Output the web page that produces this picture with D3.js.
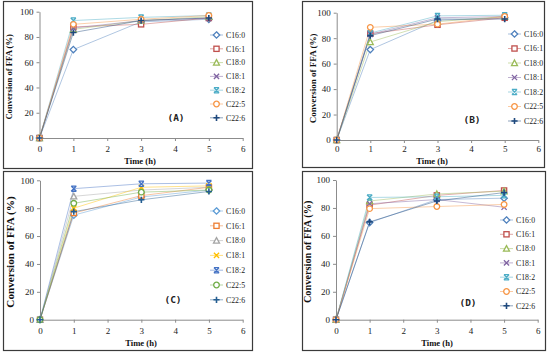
<!DOCTYPE html>
<html><head><meta charset="utf-8">
<script src="https://cdn.jsdelivr.net/npm/d3@7"></script>
<style>body{margin:0;background:#fff}svg{display:block}</style>
</head><body>
<svg id="c" width="550" height="354"></svg>
<script>
const times = [0, 1, 3, 5];
const seriesNames = ["C16:0", "C16:1", "C18:0", "C18:1", "C18:2", "C22:5", "C22:6"];
const xTicks = [0, 1, 2, 3, 4, 5, 6];
const yTicks = [0, 20, 40, 60, 80, 100];
const panelLabels = ["(A)", "(B)", "(C)", "(D)"];

const valuesA = [
  [0, 70, 92, 94],
  [0, 88, 90, 95],
  [0, 86, 93, 96],
  [0, 87, 93, 95],
  [0, 93, 95.5, 97],
  [0, 90, 94, 97],
  [0, 83.5, 93, 95]
];
const valuesB = [
  [0, 71, 94, 96],
  [0, 83.5, 90.5, 96],
  [0, 77, 93, 97],
  [0, 83, 96, 97],
  [0, 84, 97.5, 98],
  [0, 88.5, 91, 97],
  [0, 82, 95, 95]
];
const valuesC = [
  [0, 75, 88, 93],
  [0, 76.5, 89, 95],
  [0, 88.5, 93, 95],
  [0, 80, 95, 96],
  [0, 94, 97.5, 98],
  [0, 83.5, 91.5, 93],
  [0, 77.5, 86, 92]
];
const valuesD = [
  [0, 69.5, 86, 87],
  [0, 82, 89, 92.5],
  [0, 85, 90, 92],
  [0, 83, 86, 80.5],
  [0, 87.5, 88, 89],
  [0, 79.5, 81, 82.5],
  [0, 70, 85, 91]
];

const colors2007 = ["#4f81bd", "#c0504d", "#9bbb59", "#8064a2", "#4bacc6", "#f79646", "#1f497d"];
const colors2013 = ["#5b9bd5", "#ed7d31", "#a5a5a5", "#ffc000", "#4472c4", "#70ad47", "#255e91"];
const markerTypes = ["diamond", "square", "triangle", "x", "hourglass", "circle", "plus"];

const panels = [
  {vals: valuesA, colors: colors2007, frame: [3, 1, 252, 168], x0: 39.5, x1: 242.7, yb: 138, yt: 11.7,
   leg: [210, 35, 13.8], lab: [176, 118], ytitle: [9, 8.6], ttl: [140, 161], tdy: "0.9em"},
  {vals: valuesB, colors: colors2007, frame: [302, 1, 544, 167], x0: 336.7, x1: 538.3, yb: 140, yt: 12.7,
   leg: [508, 34, 14.5], lab: [472, 120], ytitle: [313, 9], ttl: [432, 160.5], tdy: "0.71em"},
  {vals: valuesC, colors: colors2013, frame: [3, 171, 252, 350], x0: 40, x1: 242.7, yb: 319.7, yt: 180.3,
   leg: [210, 211, 14.8], lab: [173, 300], ytitle: [10, 11.2], ttl: [141, 343], tdy: "0.9em"},
  {vals: valuesD, colors: colors2007, frame: [302, 171, 545, 350], x0: 336, x1: 537.7, yb: 319.7, yt: 180,
   leg: [500, 220, 14.3], lab: [468, 303], ytitle: [307, 10.3], ttl: [437, 343], tdy: "0.9em"}
];

const svg = d3.select("#c");
const serif = "'Liberation Serif', 'Times New Roman', serif";

function drawMarker(g, type, color, cx, cy) {
  const s = 2.6;
  const m = g.append("g").attr("transform", `translate(${cx},${cy})`)
    .attr("fill", "#fff").attr("stroke", color).attr("stroke-width", 1.3);
  if (type === "diamond") m.append("path").attr("d", `M0,${-s-0.6}L${s+0.6},0L0,${s+0.6}L${-s-0.6},0Z`);
  else if (type === "square") m.append("rect").attr("x", -s).attr("y", -s).attr("width", 2*s).attr("height", 2*s);
  else if (type === "triangle") m.append("path").attr("d", `M0,${-s-0.4}L${s+0.4},${s}L${-s-0.4},${s}Z`);
  else if (type === "circle") m.append("circle").attr("r", s+0.2);
  else if (type === "x") m.append("path").attr("fill", "none").attr("d", `M${-s},${-s}L${s},${s}M${s},${-s}L${-s},${s}`);
  else if (type === "hourglass") m.append("path").attr("fill", "none").attr("d", `M${-s},${-s}L${s},${s}M${s},${-s}L${-s},${s}M${-s},${-s}L${s},${-s}M${-s},${s}L${s},${s}`);
  else if (type === "plus") m.append("path").attr("fill", "none").attr("stroke-width", 1.6).attr("d", `M${-s-0.5},0L${s+0.5},0M0,${-s-0.5}L0,${s+0.5}`);
}

panels.forEach((p, pi) => {
  const g = svg.append("g");
  const [fx0, fy0, fx1, fy1] = p.frame;
  g.append("rect").attr("x", fx0 + 0.5).attr("y", fy0 + 0.5).attr("width", fx1 - fx0).attr("height", fy1 - fy0)
    .attr("fill", "#fff").attr("stroke", "#3a3a3a").attr("stroke-width", 1.2);

  const x = d3.scaleLinear().domain([0, 6]).range([p.x0, p.x1]);
  const y = d3.scaleLinear().domain([0, 100]).range([p.yb, p.yt]);

  const xa = g.append("g").attr("transform", `translate(0,${p.yb})`)
    .call(d3.axisBottom(x).tickValues(xTicks).tickSize(3).tickSizeOuter(0).tickFormat(d3.format("d")));
  const ya = g.append("g").attr("transform", `translate(${p.x0},0)`)
    .call(d3.axisLeft(y).tickValues(yTicks).tickSize(3).tickSizeOuter(0).tickFormat(d3.format("d")));
  [xa, ya].forEach(a => {
    a.select(".domain").attr("stroke", "#8c8c8c");
    a.selectAll(".tick line").attr("stroke", "#8c8c8c");
    a.selectAll("text").attr("font-family", serif).attr("font-size", 9).attr("fill", "#222");
  });
  xa.selectAll("text").attr("dy", p.tdy);

  // lines
  const line = d3.line().x((d, i) => x(times[i])).y(d => y(d));
  p.vals.forEach((vals, si) => {
    g.append("path").datum(vals).attr("d", line).attr("fill", "none")
      .attr("stroke", p.colors[si]).attr("stroke-opacity", 0.45).attr("stroke-width", 1);
  });
  p.vals.forEach((vals, si) => {
    vals.forEach((v, i) => drawMarker(g, markerTypes[si], p.colors[si], x(times[i]), y(v)));
  });

  // legend
  const [lx, ly, ld] = p.leg;
  seriesNames.forEach((name, si) => {
    const yy = ly + si * ld;
    g.append("line").attr("x1", lx).attr("x2", lx + 13).attr("y1", yy).attr("y2", yy)
      .attr("stroke", p.colors[si]).attr("stroke-opacity", 0.5).attr("stroke-width", 1);
    drawMarker(g, markerTypes[si], p.colors[si], lx + 6.5, yy);
    g.append("text").attr("x", lx + 16).attr("y", yy).attr("dy", "0.35em")
      .attr("font-family", serif).attr("font-size", 7.8).attr("fill", "#222").text(name);
  });

  // panel label
  g.append("text").attr("x", p.lab[0]).attr("y", p.lab[1]).attr("dy", "0.35em").attr("text-anchor", "middle")
    .attr("font-family", "'DejaVu Sans Mono', monospace").attr("font-weight", "bold").attr("font-size", 9.5)
    .attr("fill", "#222").text(panelLabels[pi]);

  // axis titles
  g.append("text").attr("transform", `translate(${p.ytitle[0]},${(p.yb + p.yt) / 2 + 2}) rotate(-90)`)
    .attr("dy", "0.35em").attr("text-anchor", "middle").attr("font-family", serif).attr("font-weight", "bold")
    .attr("font-size", p.ytitle[1]).attr("fill", "#111").text("Conversion of  FFA (%)");
  g.append("text").attr("x", p.ttl[0]).attr("y", p.ttl[1]).attr("dy", "0.35em").attr("text-anchor", "middle")
    .attr("font-family", serif).attr("font-weight", "bold").attr("font-size", 8.6).attr("fill", "#111")
    .text("Time (h)");
});
</script>
</body></html>
